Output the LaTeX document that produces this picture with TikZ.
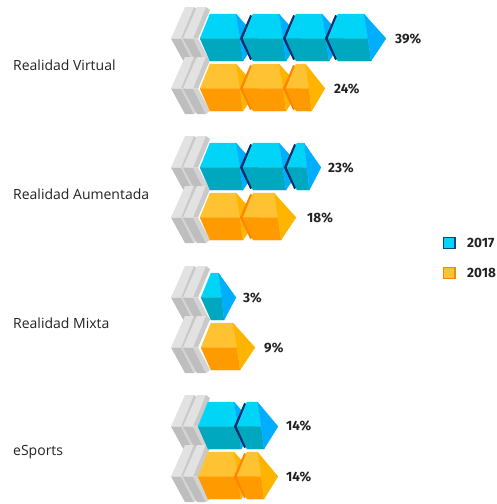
\documentclass[tikz,border=0pt]{standalone}
\usepackage{fontspec}
\setmainfont{Open Sans}
\newfontfamily\pctfont{Fira Sans}
\definecolor{btop}{HTML}{00D5F8}
\definecolor{bfront}{HTML}{00A8BF}
\definecolor{bside}{HTML}{00AEFF}
\definecolor{bshadow}{HTML}{0B2F66}
\definecolor{otop}{HTML}{FFC233}
\definecolor{ofront}{HTML}{FF9A00}
\definecolor{oside}{HTML}{FFB400}
\definecolor{oshadow}{HTML}{FF8500}
\definecolor{glight}{HTML}{E2E2E2}
\definecolor{gmid}{HTML}{C9C9C9}
\definecolor{gdark}{HTML}{BEBEBE}
\definecolor{gside}{HTML}{D3D3D3}
\definecolor{txt}{HTML}{222222}
% #1 left x, #2 total width, #3 top y, #4 bottom y, #5 colour prefix
\newcommand\cubeblk[5]{%
 \pgfmathsetmacro\cym{(#3+#4)/2+1}%
 \pgfmathsetmacro\sw{min(22,0.5*#2)}%
 \pgfmathsetmacro\xa{#1+10}%
 \pgfmathsetmacro\xb{#1+#2-\sw}%
 \pgfmathsetmacro\xc{\xb+\sw*4/22}%
 \pgfmathsetmacro\xd{#1+#2}%
 \pgfmathsetmacro\xe{\xb+\sw*7/22}%
 \filldraw[#5top, line width=0.2pt] (#1,\cym) -- (\xa,#3) -- (\xb,#3) -- (\xc,\cym) -- cycle;
 \filldraw[#5front, line width=0.2pt] (#1,\cym) -- (\xc,\cym) -- (\xe,#4) -- (\xa,#4) -- cycle;
 \filldraw[#5side, line width=0.2pt] (\xb,#3) -- (\xd,\cym) -- (\xe,#4) -- (\xc,\cym) -- cycle;
}
\newcommand\cubeshd[5]{%
 \pgfmathsetmacro\cym{(#3+#4)/2+1}%
 \pgfmathsetmacro\xa{#1+10-1.6}%
 \pgfmathsetmacro\xl{#1-1.6}%
 \draw[#5shadow, line width=2.6pt] (\xa,#3+1.5) -- (\xl,\cym) -- (\xa,#4-1.5);
 \cubeblk{#1}{#2}{#3}{#4}{#5}%
}
\newcommand\grayplate[3]{%
 \pgfmathsetmacro\gym{(#2+#3)/2+1}%
 \pgfmathsetmacro\gT{#2-7}%
 \pgfmathsetmacro\gB{#3+3}%
 \fill[glight] (#1,\gym) -- ({#1+14},\gT) -- ({#1+23},\gT) -- ({#1+10},\gym) -- cycle;
 \fill[gmid] ({#1+10},\gym) -- ({#1+23},\gT) -- ({#1+27},{\gT+3}) -- ({#1+15},\gym) -- cycle;
 \fill[gdark] (#1,\gym) -- ({#1+10},\gym) -- ({#1+23},\gB) -- ({#1+14},\gB) -- cycle;
 \fill[gside] ({#1+10},\gym) -- ({#1+15},\gym) -- ({#1+27},{\gB-3}) -- ({#1+23},\gB) -- cycle;
}
\tikzset{
 cat/.style={anchor=west, text=txt, font=\fontsize{14}{16}\selectfont, inner sep=0pt},
 pct/.style={anchor=west, text=txt, font=\pctfont\bfseries\fontsize{13.5}{15}\selectfont, inner sep=0pt},
 legbox/.style={line width=1.2pt}
}
\begin{document}
\begin{tikzpicture}[x=1pt,y=-1pt]
\useasboundingbox (0,0) rectangle (496,504);
\clip (0,0) rectangle (496,504);
% gray plates
\foreach \yy in {14,64,143,193,273,323,402,452}{
  \pgfmathsetmacro\yyb{\yy+47}
  \grayplate{171}{\yy}{\yyb}
  \grayplate{183}{\yy}{\yyb}
}
% group 1
\cubeblk{200}{58}{14}{61}{b}
\cubeshd{243}{58}{14}{61}{b}
\cubeshd{286}{58}{14}{61}{b}
\cubeshd{328}{58}{14}{61}{b}
\cubeblk{200}{58}{64}{111}{o}
\cubeshd{243}{58}{64}{111}{o}
\cubeshd{286}{39}{64}{111}{o}
% group 2
\cubeblk{200}{58}{143}{190}{b}
\cubeshd{243}{58}{143}{190}{b}
\cubeshd{287}{34}{143}{190}{b}
\cubeblk{200}{58}{193}{240}{o}
\cubeshd{243}{53}{193}{240}{o}
% group 3
\cubeblk{201}{35}{273}{320}{b}
\cubeblk{201}{54}{323}{370}{o}
% group 4
\cubeblk{198}{58}{402}{449}{b}
\cubeshd{237}{41}{402}{449}{b}
\cubeblk{198}{58}{452}{499}{o}
\cubeshd{237}{41}{452}{499}{o}
% category labels
\node[cat] (l1) at (13,65) {Realidad Virtual};
\node[cat] (l2) at (13,194) {Realidad Aumentada};
\node[cat] (l3) at (13,323) {Realidad Mixta};
\node[cat] (l4) at (13,452) {eSports};
% percentages
\node[pct] (p1) at (395,39) {39\%};
\node[pct] (p2) at (334,89) {24\%};
\node[pct] (p3) at (328,168) {23\%};
\node[pct] (p4) at (307,218) {18\%};
\node[pct] (p5) at (243,298) {3\%};
\node[pct] (p6) at (264,348) {9\%};
\node[pct] (p7) at (286,426) {14\%};
\node[pct] (p8) at (286,477) {14\%};
% legend
\filldraw[legbox, fill=btop, draw=bshadow!80!bside] (443.5,237.5) rectangle (455,248.5);
\filldraw[legbox, fill=otop, draw=oshadow] (443.5,267.5) rectangle (455,278.5);
\node[pct] (k1) at (467,243) {2017};
\node[pct] (k2) at (467,273) {2018};
\end{tikzpicture}
\end{document}
